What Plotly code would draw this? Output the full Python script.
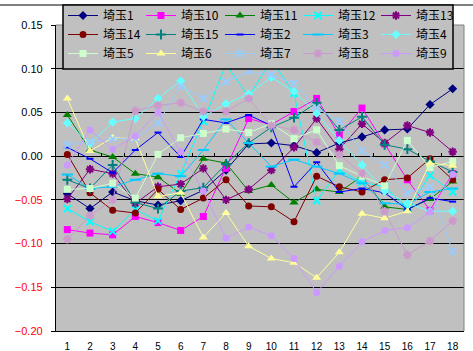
import plotly.graph_objects as go

x_vals = list(range(1, 19))

names = ["埼玉1", "埼玉10", "埼玉11", "埼玉12", "埼玉13",
         "埼玉14", "埼玉15", "埼玉2", "埼玉3", "埼玉4",
         "埼玉5", "埼玉6", "埼玉7", "埼玉8", "埼玉9"]

s1 = [-0.043, -0.060, -0.041, -0.051, -0.056, -0.051, -0.039, -0.016, 0.014, 0.015, 0.012, 0.004, 0.015, 0.022, 0.030, 0.031, 0.059, 0.077]
s10 = [-0.084, -0.088, -0.090, -0.069, -0.076, -0.085, -0.069, -0.014, 0.043, 0.036, 0.051, 0.066, 0.024, 0.055, 0.014, -0.027, -0.062, -0.020]
s11 = [0.047, 0.007, -0.001, -0.020, -0.024, -0.043, -0.003, -0.008, -0.040, -0.033, -0.053, -0.038, -0.041, -0.023, -0.058, -0.061, -0.049, -0.029]
s12 = [-0.060, -0.075, -0.086, -0.061, -0.074, -0.020, 0.040, 0.105, 0.068, 0.110, 0.072, -0.051, -0.016, -0.030, -0.035, -0.060, -0.022, -0.041]
s13 = [-0.049, -0.015, -0.020, -0.054, -0.035, -0.032, -0.014, -0.050, -0.038, -0.016, 0.010, 0.043, 0.008, 0.037, 0.015, 0.035, 0.027, 0.005]
s14 = [0.002, -0.042, -0.062, -0.065, -0.038, -0.061, -0.048, -0.027, -0.057, -0.058, -0.075, -0.023, -0.035, -0.041, -0.027, -0.025, -0.003, -0.027]
s15 = [-0.027, -0.037, -0.010, -0.053, -0.060, -0.040, -0.036, -0.009, 0.015, 0.033, 0.044, 0.061, 0.030, 0.045, 0.013, 0.008, -0.006, -0.018]
s2 = [0.010, -0.003, -0.019, 0.007, 0.027, -0.001, 0.042, 0.038, 0.047, 0.035, -0.035, -0.007, -0.041, -0.037, -0.042, -0.061, -0.048, -0.052]
s3 = [-0.021, -0.037, -0.035, -0.027, -0.020, -0.023, 0.007, 0.042, 0.015, -0.012, -0.004, -0.012, -0.020, -0.031, -0.054, -0.055, -0.041, -0.037]
s4 = [0.038, 0.014, 0.039, 0.043, 0.066, 0.086, 0.045, 0.060, 0.071, 0.090, 0.074, 0.049, 0.018, -0.010, -0.040, -0.054, -0.063, -0.063]
s5 = [-0.038, -0.037, -0.031, -0.048, 0.002, 0.021, 0.026, 0.031, 0.027, 0.037, 0.020, 0.030, -0.011, -0.023, -0.034, 0.018, -0.013, -0.006]
s6 = [0.066, 0.006, 0.021, 0.020, -0.046, -0.042, -0.093, -0.065, -0.103, -0.117, -0.122, -0.139, -0.110, -0.066, -0.071, -0.063, -0.008, -0.011]
s7 = [0.013, 0.016, 0.020, 0.020, 0.038, 0.080, 0.066, 0.085, 0.097, 0.093, 0.083, 0.055, 0.040, 0.006, -0.010, -0.042, -0.035, -0.109]
s8 = [-0.095, -0.068, -0.050, 0.052, 0.058, 0.061, 0.051, 0.051, 0.066, 0.035, 0.030, 0.016, 0.002, -0.020, -0.063, -0.113, -0.097, -0.074]
s9 = [-0.010, 0.030, 0.008, 0.023, 0.050, 0.005, -0.040, -0.094, -0.081, -0.091, -0.117, -0.156, -0.126, -0.098, -0.085, -0.082, -0.064, -0.021]

series = [s1, s10, s11, s12, s13, s14, s15, s2, s3, s4, s5, s6, s7, s8, s9]

colors = ["#000080", "#FF00FF", "#008000", "#00FFFF", "#800080",
          "#800000", "#008080", "#0000FF", "#00CCFF", "#66FFFF",
          "#CCFFCC", "#FFFF99", "#99CCFF", "#CC99CC", "#CC99FF"]
symbols = ["diamond", "square", "triangle-up", "x-thin-open", "asterisk-open",
           "circle", "cross-thin-open", "line-ew-open", "line-ew-open", "diamond",
           "square", "triangle-up", "x-thin-open", "asterisk-open", "circle"]
sizes = [7, 7, 8, 7, 7, 7, 7, 5, 8, 7, 7, 8, 7, 7, 7]

y_ticks = [0.15, 0.10, 0.05, 0.00, -0.05, -0.10, -0.15, -0.20]

# legend box geometry (px) -> paper coords
L, T, PW, PH = 56, 25, 408, 306
def px_x(px):
    return (px - L) / PW
def px_y(py):
    return 1 - (py - T) / PH

legend_ids = ["legend", "legend2", "legend3", "legend4", "legend5"]
col_px = [63, 141, 220, 298, 376]

fig = go.Figure()
for i, (nm, ys, c, sym, sz) in enumerate(zip(names, series, colors, symbols, sizes)):
    open_sym = sym.endswith("-open")
    fig.add_trace(go.Scatter(
        x=x_vals, y=ys, name=nm, mode="lines+markers",
        line=dict(color=c, width=1),
        marker=dict(symbol=sym, size=sz, color=c,
                    line=dict(color=c, width=2 if open_sym else 0)),
        legend=legend_ids[i % 5],
    ))

# dummy trace for the category-axis ticks along y=0
fig.add_trace(go.Scatter(x=[0.5, 18.5], y=[0, 0], xaxis="x2", mode="lines",
                         line=dict(width=0), showlegend=False, hoverinfo="skip"))

ticktext = []
for v in y_ticks:
    if v < 0:
        ticktext.append('<span style="color:#FF0000">\u2212%.2f</span>\u2007' % abs(v))
    else:
        ticktext.append("%.2f\u2007" % v)

legend_layout = {}
for lid, cx in zip(legend_ids, col_px):
    legend_layout[lid] = dict(
        orientation="v", x=px_x(cx), y=px_y(1), xanchor="left", yanchor="top",
        bgcolor="rgba(0,0,0,0)", borderwidth=0,
        font=dict(family="Noto Sans CJK JP", size=12, color="black"),
        itemwidth=30, tracegroupgap=0, traceorder="normal",
    )

fig.update_layout(
    width=473, height=351,
    margin=dict(l=56, r=9, t=25, b=20, autoexpand=False),
    paper_bgcolor="white",
    plot_bgcolor="#C0C0C0",
    font=dict(family="Liberation Sans, Arial", size=11, color="black"),
    showlegend=True,
    xaxis=dict(
        range=[0.5, 18.5], tickmode="array", tickvals=x_vals,
        ticktext=[str(v) for v in x_vals], showgrid=False, zeroline=False,
        showline=True, linecolor="black", linewidth=1,
        ticks="outside", ticklen=6, tickcolor="rgba(0,0,0,0)",
        tickfont=dict(size=10), automargin=False,
    ),
    xaxis2=dict(
        range=[0.5, 18.5], overlaying="x", anchor="free", position=0.5714,
        tickmode="array", tickvals=[i + 0.5 for i in range(1, 18)],
        ticks="inside", ticklen=3, tickcolor="black", showticklabels=False,
        showgrid=False, zeroline=False, showline=False,
    ),
    yaxis=dict(
        range=[-0.2, 0.15], tickmode="array", tickvals=y_ticks, ticktext=ticktext,
        showgrid=True, gridcolor="black", gridwidth=1, zeroline=False,
        showline=True, linecolor="black", linewidth=1,
        ticks="outside", ticklen=4, tickcolor="black",
        tickfont=dict(size=11), automargin=False,
    ),
    shapes=[
        dict(type="line", xref="paper", yref="paper", x0=0, x1=1, y0=1, y1=1,
             line=dict(color="#808080", width=1)),
        dict(type="line", xref="paper", yref="paper", x0=1, x1=1, y0=0, y1=1,
             line=dict(color="#808080", width=1)),
        dict(type="line", xref="paper", yref="paper", x0=px_x(0), x1=px_x(473),
             y0=px_y(5), y1=px_y(5), line=dict(color="black", width=1)),
        dict(type="rect", xref="paper", yref="paper", layer="above",
             x0=px_x(63), x1=px_x(453), y0=px_y(69), y1=px_y(5),
             fillcolor="#C0C0C0", line=dict(color="black", width=1.5)),
    ],
    **legend_layout,
)

fig.write_html("out.html")
